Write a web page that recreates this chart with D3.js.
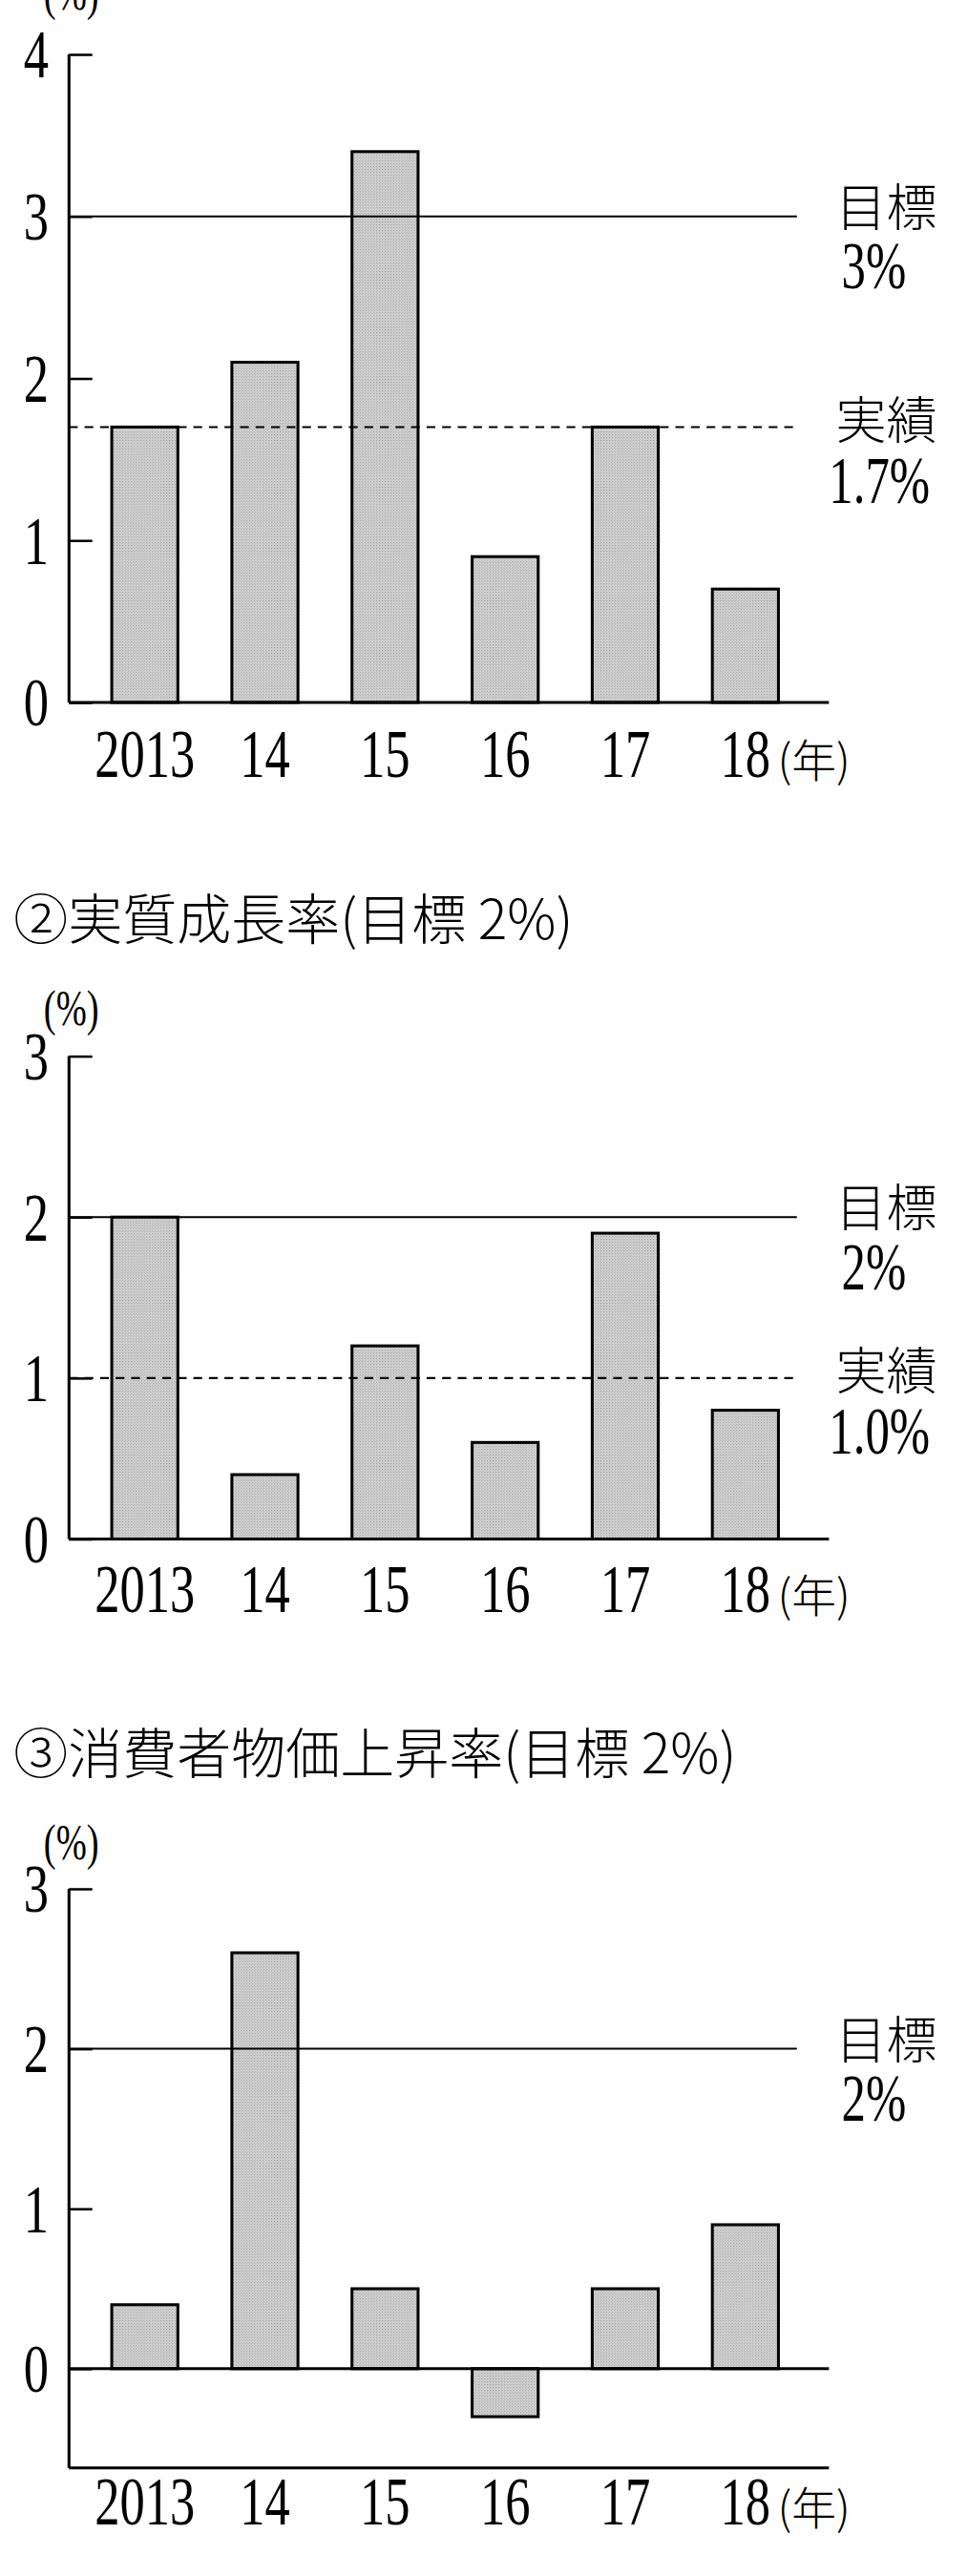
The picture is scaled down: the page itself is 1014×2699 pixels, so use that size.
<!DOCTYPE html>
<html><head><meta charset="utf-8">
<script src="https://cdn.jsdelivr.net/npm/d3@7/dist/d3.min.js"></script>
<style>body{margin:0;background:#fff}</style></head>
<body><svg id="c" width="1014" height="2699"></svg>
<script>
const years = ["2013","14","15","16","17","18"];
const gdpNominal = [1.7, 2.1, 3.4, 0.9, 1.7, 0.7];
const gdpReal = [2.0, 0.4, 1.2, 0.6, 1.9, 0.8];
const cpi = [0.4, 2.6, 0.5, -0.3, 0.5, 0.9];
const title2 = "②実質成長率(目標 2%)";
const title3 = "③消費者物価上昇率(目標 2%)";
const ticks1 = [0,1,2,3,4], ticks2 = [0,1,2,3], ticks3 = [0,1,2,3];

const svg = d3.select("#c");
const defs = svg.append("defs");
const pat = defs.append("pattern").attr("id","dots").attr("width",3).attr("height",3).attr("patternUnits","userSpaceOnUse");
pat.append("rect").attr("width",3).attr("height",3).attr("fill","#d6d6d6");
pat.append("rect").attr("width",1).attr("height",1).attr("fill","#8a8a8a");
pat.append("rect").attr("x",1.5).attr("y",1.5).attr("width",1).attr("height",1).attr("fill","#a0a0a0");
const root = svg.append("g").attr("transform","scale(1.018)");

const serif = "'Liberation Serif','DejaVu Serif',serif";
const jp = "'Noto Sans CJK JP','Liberation Serif',serif";
const x = d3.scalePoint().domain(years).range([149,767]);
const BW = 68, AX = 71, AXEND = 853, LEND = 820;
const SX = 0.86, SY = 1.18;
function num(g, tx, ty, txt, size, anchor){
  return g.append("text").attr("transform",`translate(${tx},${ty}) scale(${SX},${SY})`)
    .attr("text-anchor",anchor||"start").attr("font-family",serif).attr("font-size",size).text(txt);
}

function chart(o){
  const y = d3.scaleLinear().domain([o.min,o.max]).range([o.yb,o.yt]);
  const g = root.append("g");
  if(o.title) g.append("text").attr("x",14).attr("y",o.titleY).attr("font-family",jp).attr("font-size",56).attr("font-weight",300).text(o.title);
  num(g,45,o.pctY,"(%)",44);
  g.selectAll("rect.b").data(o.vals).join("rect")
    .attr("x",(d,i)=>x(years[i])-BW/2).attr("width",BW)
    .attr("y",d=>y(Math.max(0,d))).attr("height",d=>Math.abs(y(d)-y(0)))
    .attr("fill","url(#dots)").attr("stroke","#000").attr("stroke-width",3);
  const ax = d3.axisRight(y).tickValues(o.ticks).tickSize(24).tickFormat("");
  const ga = g.append("g").attr("transform",`translate(${AX},0)`).call(ax);
  ga.select(".domain").attr("d",`M0,${y(o.min)}V${y(o.max)}`).attr("stroke-width",3);
  ga.selectAll(".tick line").attr("stroke-width",2.5);
  o.ticks.forEach(d=>num(g,50,y(d)+24,d,60,"end"));
  g.append("line").attr("x1",AX).attr("x2",AXEND).attr("y1",y(0)).attr("y2",y(0)).attr("stroke","#000").attr("stroke-width",3);
  if(o.min<0) g.append("line").attr("x1",AX).attr("x2",AXEND).attr("y1",y(o.min)).attr("y2",y(o.min)).attr("stroke","#000").attr("stroke-width",3);
  g.append("line").attr("x1",AX).attr("x2",LEND).attr("y1",y(o.target)).attr("y2",y(o.target)).attr("stroke","#000").attr("stroke-width",2);
  g.append("text").attr("x",860).attr("y",y(o.target)+10).attr("font-family",jp).attr("font-size",52).attr("font-weight",300).text("目標");
  num(g,866,y(o.target)+74,o.target+"%",58);
  if(o.actual!=null){
    g.append("line").attr("x1",AX).attr("x2",LEND).attr("y1",y(o.actual)).attr("y2",y(o.actual)).attr("stroke","#000").attr("stroke-width",2).attr("stroke-dasharray","9,7");
    g.append("text").attr("x",860).attr("y",y(o.actual)+12).attr("font-family",jp).attr("font-size",52).attr("font-weight",300).text("実績");
    num(g,853,y(o.actual)+78,o.actual.toFixed(1)+"%",58);
  }
  years.forEach(d=>num(g,x(d),o.xlY,d,60,"middle"));
  g.append("text").attr("x",x("18")+33).attr("y",o.xlY).attr("font-family",jp).attr("font-size",46).attr("font-weight",300).text("(年)");
}
chart({vals:gdpNominal,min:0,max:4,yb:723,yt:56,ticks:ticks1,target:3,actual:1.7,pctY:10,xlY:800});
chart({vals:gdpReal,min:0,max:3,yb:1584,yt:1087,ticks:ticks2,target:2,actual:1.0,title:title2,titleY:967,pctY:1055,xlY:1659});
chart({vals:cpi,min:-0.62,max:3,yb:2540,yt:1944,ticks:ticks3,target:2,actual:null,title:title3,titleY:1825,pctY:1914,xlY:2598});
</script></body></html>
